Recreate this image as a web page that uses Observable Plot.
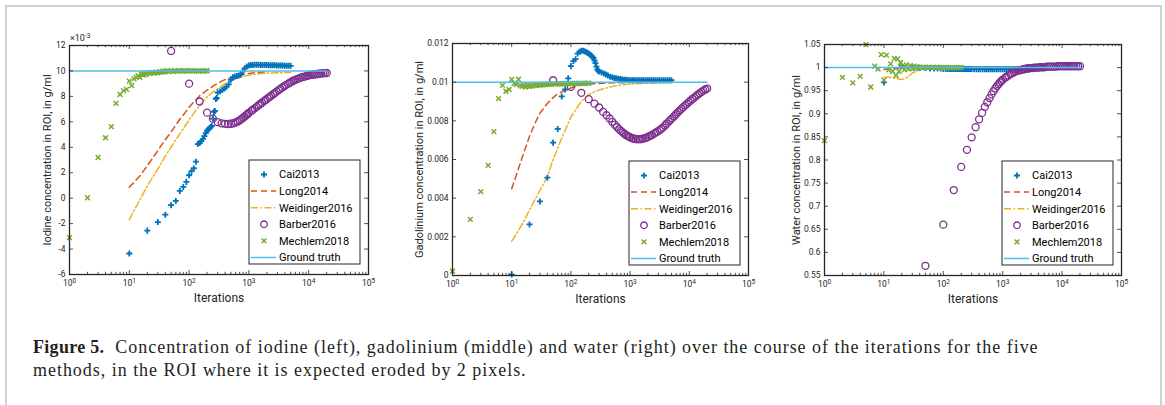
<!DOCTYPE html>
<html><head><meta charset="utf-8">
<script src="https://cdn.jsdelivr.net/npm/d3@7"></script>
<script src="https://cdn.jsdelivr.net/npm/@observablehq/plot@0.6"></script>
<style>
html,body{margin:0;padding:0;background:#fff;width:1165px;height:405px;overflow:hidden;}
#wrap{position:relative;width:1165px;height:405px;}
#border{position:absolute;left:5px;top:5px;width:1153px;height:420px;border:2px solid #d0d0d0;border-bottom:none;z-index:5;pointer-events:none;}
.panel{position:absolute;top:0;}
#caption{position:absolute;left:33px;top:336px;font-family:"Liberation Serif",serif;font-size:18px;letter-spacing:0.97px;color:#231f20;line-height:23px;white-space:nowrap;}
#caption b{font-weight:bold;letter-spacing:0.3px;}
</style></head><body><div id="wrap">
<div id="p1" class="panel" style="left:0px"></div>
<div id="p2" class="panel" style="left:390px"></div>
<div id="p3" class="panel" style="left:770px"></div>
<div id="border"></div>
<div id="caption"><b>Figure 5.</b>&nbsp; Concentration of iodine (left), gadolinium (middle) and water (right) over the course of the iterations for the five<br>methods, in the ROI where it is expected eroded by 2 pixels.</div>
</div>
<script>
// ---------- series names & colours ----------
const seriesNames = ["Cai2013","Long2014","Weidinger2016","Barber2016","Mechlem2018","Ground truth"];
const colors = {Cai:"#0072BD", Long:"#D95319", Weid:"#EDB120", Barber:"#7E2F8E", Mech:"#77AC30", GT:"#4DBEEE"};

// ---------- x tick values (log axis) ----------
const xMajor = [1,10,100,1000,10000,100000];
const xMinor = [2,3,4,5,6,7,8,9,20,30,40,50,60,70,80,90,200,300,400,500,600,700,800,900,
  2000,3000,4000,5000,6000,7000,8000,9000,20000,30000,40000,50000,60000,70000,80000,90000];
const xTickLabels = ["10⁰","10¹","10²","10³","10⁴","10⁵"];

// ---------- y ticks ----------
const yTicks1 = [-6,-4,-2,0,2,4,6,8,10,12];            // ×10^-3 g/ml
const yTicks2 = [0,0.002,0.004,0.006,0.008,0.01,0.012];
const yTicks3 = [0.55,0.6,0.65,0.7,0.75,0.8,0.85,0.9,0.95,1,1.05];

// ---------- iteration grids ----------
const caiIter = [10,20,30,40,50,60,70,80,90,100,110,120,130,140,150,160,170,180,190,200,210,220,230,240,250,260,270,280,290,300,
  330,360,390,420,460,500,540,580,630,680,730,790,850,920,1000,1080,1160,1250,1350,1460,1580,1700,1840,1990,2150,2320,2500,2700,2920,3150,3400,3680,3970,4290,4630,5000];
const longIter = [10,12,15,20,25,30,40,50,60,70,85,100,125,150,200,270,350,450,600,800,1000,1400,2000];
const weidIter = [10,12,14,17,20,25,30,40,50,60,70,85,100,125,150,200,250,300,400,500,700,1000,1500,2000,3000,5000];
const barberIter = [50,100,150,200,250,300,350,400,450,500,550,600,650,700,750,800,850,900,950,1000,1100,1150,1250,1350,1450,1550,1650,1800,1900,
  2050,2200,2350,2550,2700,2900,3150,3350,3600,3900,4150,4500,4800,5150,5550,5950,6400,6850,7350,7900,8500,9100,9800,10500,11300,12100,13000,14000,15000,16100,17300,18600,20000];
const mechIter = [1,2,3,4,5,6,7,8,9,10,11,12,13,14,15,16,17,18,19,20,22,24,26,28,30,32,34,36,38,40,
  43,46,50,54,58,63,68,73,79,85,92,99,107,115,124,133,143,154,166,179,193,200];
const gtIter = [1,20000];

// ---------- Panel 1: iodine (×10^-3 g/ml) ----------
const cai1 = [-4.35,-2.55,-1.88,-1.3,-0.55,-0.22,0.57,0.88,1.28,1.8,2.12,2.35,2.87,4.25,4.33,4.48,4.66,4.87,5.12,5.3,5.4,5.52,5.6,5.68,6.25,6.78,6.85,7.8,7.88,8.3,
  8.38,8.5,8.62,8.75,8.95,9.3,9.5,9.56,9.6,9.65,9.72,9.95,10.2,10.35,10.42,10.46,10.47,10.48,10.48,10.48,10.47,10.47,10.46,10.46,10.45,10.45,10.44,10.44,10.43,10.43,10.42,10.42,10.41,10.41,10.4,10.4];
const long1 = [0.85,1.25,1.75,2.55,3.2,3.75,4.6,5.2,5.75,6.2,6.7,7.15,7.65,8.05,8.5,8.9,9.2,9.42,9.6,9.73,9.8,9.88,9.92];
const weid1 = [-1.7,-0.95,-0.4,0.35,0.95,1.7,2.3,3.3,4.0,4.6,5.05,5.65,6.15,6.8,7.3,7.95,8.35,8.6,9.0,9.25,9.5,9.68,9.78,9.83,9.86,9.88];
const barber1 = [11.57,9.0,7.6,6.72,6.25,5.98,5.88,5.84,5.83,5.85,5.89,5.95,6.03,6.12,6.22,6.32,6.42,6.52,6.62,6.71,6.86,6.93,7.06,7.18,7.3,7.4,7.5,7.64,7.72,
  7.84,7.95,8.05,8.17,8.26,8.37,8.5,8.59,8.7,8.81,8.89,8.99,9.07,9.15,9.23,9.3,9.36,9.42,9.47,9.51,9.56,9.6,9.64,9.67,9.7,9.72,9.74,9.76,9.78,9.8,9.81,9.83,9.84];
const mech1 = [-3.1,0.03,3.2,4.75,5.62,7.45,8.15,8.45,8.55,9.2,8.85,9.38,9.5,9.62,9.5,9.75,9.68,9.8,9.72,9.85,9.8,9.88,9.82,9.9,9.86,9.95,9.9,9.97,9.92,9.98,
  10.0,9.95,10.02,9.97,10.0,9.98,10.03,9.98,10.0,10.02,9.98,10.0,10.02,9.98,10.0,10.01,9.98,10.0,10.01,9.99,10.0,10.0];
const gt1 = [10,10];

// ---------- Panel 2: gadolinium (g/ml) ----------
const cai2 = [0.00005,0.00264,0.00383,0.00506,0.00687,0.00758,0.00926,0.00962,0.0102,0.01083,0.01109,0.01119,0.01148,0.01157,0.01163,0.01162,0.0116,0.01156,0.01152,0.01148,0.01143,0.01138,0.01132,0.01125,0.01112,0.01098,0.0108,0.01065,0.01058,0.01055,
  0.0105,0.01045,0.0104,0.01035,0.01028,0.01025,0.01022,0.0102,0.01018,0.01016,0.01014,0.01013,0.01012,0.01011,0.0101,0.0101,0.0101,0.0101,0.0101,0.0101,0.0101,0.0101,0.0101,0.0101,0.0101,0.0101,0.0101,0.0101,0.0101,0.0101,0.0101,0.0101,0.0101,0.0101,0.0101,0.0101];
const long2 = [0.00449,0.0052,0.0061,0.0072,0.0079,0.0084,0.0089,0.0092,0.0094,0.0095,0.00962,0.0097,0.00979,0.00985,0.0099,0.00993,0.00995,0.00996,0.00997,0.00997,0.00998,0.00998,0.00998];
const weid2 = [0.00178,0.00215,0.0025,0.00295,0.0034,0.00395,0.0044,0.0051,0.006,0.0066,0.0071,0.0077,0.0082,0.00865,0.009,0.00935,0.0095,0.0096,0.0097,0.00978,0.00985,0.0099,0.00993,0.00995,0.00996,0.00997];
const barber2 = [0.0101,0.00976,0.00945,0.00912,0.00889,0.00869,0.00846,0.00829,0.00812,0.00795,0.0078,0.00768,0.00757,0.00748,0.0074,0.00733,0.00727,0.00722,0.00718,0.00715,0.0071,0.00708,0.00706,0.00705,0.00705,0.00706,0.00708,0.00711,0.00714,
  0.00718,0.00723,0.00727,0.00734,0.00739,0.00745,0.00752,0.00758,0.00766,0.00776,0.00786,0.00796,0.00805,0.00814,0.00824,0.00834,0.00844,0.00853,0.00862,0.00871,0.0088,0.00888,0.00897,0.00905,0.00913,0.0092,0.00928,0.00936,0.00943,0.0095,0.00956,0.00962,0.00967];
const mech2 = [0.00022,0.0029,0.00434,0.0057,0.00744,0.00915,0.00983,0.00953,0.00962,0.01014,0.00993,0.00988,0.01015,0.00982,0.00978,0.00985,0.00975,0.0098,0.00985,0.00978,0.0098,0.00985,0.00982,0.00986,0.00984,0.00988,0.00986,0.00989,0.00987,0.0099,
  0.00989,0.0099,0.00991,0.0099,0.00991,0.00992,0.00991,0.00992,0.00992,0.00993,0.00992,0.00993,0.00993,0.00993,0.00994,0.00993,0.00994,0.00994,0.00994,0.00994,0.00995,0.00995];
const gt2 = [0.01,0.01];

// ---------- Panel 3: water (g/ml) ----------
const cai3 = [0.968,1.004,1.001,0.999,0.999,0.998,0.998,0.998,0.998,0.997,0.997,0.997,0.997,0.997,0.997,0.997,0.997,0.997,0.997,0.997,0.997,0.997,0.997,0.997,0.997,0.997,0.997,0.997,0.997,0.997,
  0.9965,0.9965,0.9965,0.9965,0.9965,0.9965,0.9965,0.9965,0.9965,0.9965,0.9965,0.9965,0.9965,0.9965,0.9965,0.9965,0.9965,0.9965,0.9965,0.9965,0.9965,0.9965,0.9965,0.9965,0.998,0.998,0.998,0.998,0.998,0.998,0.998,0.998,0.998,0.998,0.998,0.998];
const long3 = [0.996,0.997,0.998,0.999,1.0,1.0,1.001,1.001,1.002,1.002,1.002,1.002,1.002,1.002,1.002,1.002,1.002,1.002,1.002,1.002,1.002,1.002,1.002];
const weid3 = [0.979,0.979,0.978,0.976,0.974,0.979,0.988,0.995,0.998,0.999,1.0,1.0,1.0,1.001,1.001,1.002,1.002,1.002,1.002,1.002,1.002,1.002,1.002,1.002,1.002,1.002];
const barber3 = [0.571,0.66,0.735,0.785,0.822,0.849,0.871,0.888,0.902,0.915,0.925,0.934,0.942,0.949,0.955,0.96,0.964,0.968,0.971,0.974,0.978,0.98,0.983,0.986,0.988,0.99,0.992,0.993,0.994,
  0.995,0.996,0.997,0.998,0.998,0.999,0.999,1.0,1.0,1.0,1.001,1.001,1.001,1.001,1.002,1.002,1.002,1.002,1.002,1.002,1.003,1.003,1.003,1.003,1.003,1.003,1.003,1.003,1.003,1.003,1.003,1.003,1.003];
const mech3 = [0.842,0.979,0.967,0.981,1.05,0.958,1.003,0.997,1.028,0.973,1.027,0.995,1.008,0.992,1.02,0.983,1.019,0.992,1.011,1.002,0.995,1.006,0.997,1.004,0.998,1.003,0.999,1.002,0.999,1.001,
  1.0,1.001,1.0,1.0,1.001,1.0,1.0,1.0,1.001,1.0,1.0,1.0,1.0,1.0,1.0,1.0,1.0,1.0,1.0,1.0,1.0,1.0];
const gt3 = [1,1];

// ---------- labels ----------
const yLabels = ["Iodine concentration in ROI, in g/ml","Gadolinium concentration in ROI, in g/ml","Water concentration in ROI, in g/ml"];
const xLabel = "Iterations";

const rows = (xs, ys) => xs.map((x, i) => ({x, y: ys[i]}));
const AX = "#262626";

function drawPanel(el, cfg) {
  const W = cfg.width, H = 310;
  const innerH = H - cfg.mt - cfg.mb;
  const innerW = W - cfg.ml - cfg.mr;
  const marks = [
    Plot.line(rows(longIter, cfg.long), {x:"x", y:"y", stroke:colors.Long, strokeWidth:1.5, strokeDasharray:"6,4"}),
    Plot.line(rows(weidIter, cfg.weid), {x:"x", y:"y", stroke:colors.Weid, strokeWidth:1.5, strokeDasharray:"7,2.5,1.5,2.5"}),
    Plot.dot(rows(caiIter, cfg.cai), {x:"x", y:"y", symbol:"plus", r:2.1, stroke:colors.Cai, strokeWidth:1.8}),
    Plot.dot(rows(barberIter, cfg.barber), {x:"x", y:"y", symbol:"circle", r:3.5, stroke:colors.Barber, fill:"none", strokeWidth:1.3}),
    Plot.dot(rows(mechIter, cfg.mech), {x:"x", y:"y", symbol:"times", r:2.3, stroke:colors.Mech, strokeWidth:1.5}),
    Plot.line(rows(gtIter, cfg.gt), {x:"x", y:"y", stroke:colors.GT, strokeWidth:1.5}),
    // inward ticks (box on all sides)
    Plot.tickX(xMajor, {x:d=>d, insetTop: innerH-4, stroke:AX, strokeWidth:0.8}),
    Plot.tickX(xMajor, {x:d=>d, insetBottom: innerH-4, stroke:AX, strokeWidth:0.8}),
    Plot.tickX(xMinor, {x:d=>d, insetTop: innerH-2.2, stroke:AX, strokeWidth:0.8}),
    Plot.tickX(xMinor, {x:d=>d, insetBottom: innerH-2.2, stroke:AX, strokeWidth:0.8}),
    Plot.tickY(cfg.yTicks, {y:d=>d, insetRight: innerW-4, stroke:AX, strokeWidth:0.8}),
    Plot.tickY(cfg.yTicks, {y:d=>d, insetLeft: innerW-4, stroke:AX, strokeWidth:0.8}),
    Plot.frame({stroke:AX, strokeWidth:1.3}),
    Plot.text([xLabel], {frameAnchor:"bottom", dy:27, fontSize:12, fill:AX, textAnchor:"middle"}),
    Plot.text([cfg.ylabel], {frameAnchor:"left", dx:-cfg.ylOff, rotate:-90, fontSize:11, fill:AX, textAnchor:"middle"})
  ];
  const svg = Plot.plot({
    width: W, height: H,
    marginLeft: cfg.ml, marginRight: cfg.mr, marginTop: cfg.mt, marginBottom: cfg.mb,
    x: {type:"log", domain:[1,100000], ticks: xMajor, tickFormat: (d)=> xTickLabels[xMajor.indexOf(d)], tickSize:0, tickPadding:5, label:null},
    y: {domain: cfg.ydomain, ticks: cfg.yTicks, tickFormat: d=>String(d), tickSize:0, tickPadding:4, label:null},
    style: {fontFamily:"Roboto, sans-serif", fontSize:"8.5px", color:AX, background:"transparent", overflow:"visible"},
    marks
  });
  el.appendChild(svg);
  const s = d3.select(svg);
  // superscript exponents in log labels
  svg.querySelectorAll("text").forEach(t => {
    const i = xTickLabels.indexOf(t.textContent);
    if (i >= 0) {
      t.textContent = "";
      d3.select(t).append("tspan").text("10");
      d3.select(t).append("tspan").attr("dy","-0.45em").attr("font-size","6.5px").text(String(i));
    }
  });
  if (cfg.exp) {
    const tx = s.append("text").attr("x", cfg.ml+1).attr("y", cfg.mt-4).attr("text-anchor","start")
      .attr("font-family","Roboto, sans-serif").attr("font-size","9px").attr("fill",AX);
    tx.append("tspan").text("×10");
    tx.append("tspan").attr("dy","-0.45em").attr("font-size","6.5px").text("-3");
  }
  // legend
  const right = W - cfg.mr, bottom = H - cfg.mb;
  const lw = 111, lh = 104;
  const lx = right - 8 - lw, ly = bottom - 10 - lh;
  const g = s.append("g").attr("font-family","Roboto, sans-serif").attr("font-size","11px").attr("text-anchor","start");
  g.append("rect").attr("x",lx).attr("y",ly).attr("width",lw).attr("height",lh)
    .attr("fill","#fff").attr("stroke",AX).attr("stroke-width",1);
  const kinds = [
    {type:"sym", sym:d3.symbolPlus, r:2.1, color:colors.Cai, sw:1.8},
    {type:"line", color:colors.Long, dash:"6,4"},
    {type:"line", color:colors.Weid, dash:"7,2.5,1.5,2.5"},
    {type:"sym", sym:d3.symbolCircle, r:3.3, color:colors.Barber, sw:1.3},
    {type:"sym", sym:d3.symbolTimes, r:2.3, color:colors.Mech, sw:1.5},
    {type:"line", color:colors.GT, dash:null}
  ];
  kinds.forEach((k, i) => {
    const yy = ly + 14.5 + i*16.6;
    if (k.type === "line") {
      g.append("line").attr("x1",lx+2).attr("x2",lx+27).attr("y1",yy).attr("y2",yy)
        .attr("stroke",k.color).attr("stroke-width",1.5).attr("stroke-dasharray",k.dash);
    } else {
      g.append("path").attr("d", d3.symbol(k.sym, k.r*k.r*Math.PI)())
        .attr("transform",`translate(${lx+15},${yy})`).attr("fill","none")
        .attr("stroke",k.color).attr("stroke-width",k.sw);
    }
    g.append("text").attr("x",lx+30).attr("y",yy).attr("dy","0.35em").attr("text-anchor","start").attr("fill","#000").text(seriesNames[i]);
  });
}

drawPanel(document.getElementById("p1"), {width:390, ml:69, mr:22, mt:45, mb:36, ydomain:[-6,12], yTicks:yTicks1,
  cai:cai1, long:long1, weid:weid1, barber:barber1, mech:mech1, gt:gt1, ylabel:yLabels[0], ylOff:22, exp:true});
drawPanel(document.getElementById("p2"), {width:380, ml:62, mr:22, mt:43, mb:35, ydomain:[0,0.012], yTicks:yTicks2,
  cai:cai2, long:long2, weid:weid2, barber:barber2, mech:mech2, gt:gt2, ylabel:yLabels[1], ylOff:33, exp:false});
drawPanel(document.getElementById("p3"), {width:390, ml:54, mr:39, mt:44, mb:35, ydomain:[0.55,1.05], yTicks:yTicks3,
  cai:cai3, long:long3, weid:weid3, barber:barber3, mech:mech3, gt:gt3, ylabel:yLabels[2], ylOff:28, exp:false});
</script>
</body></html>
